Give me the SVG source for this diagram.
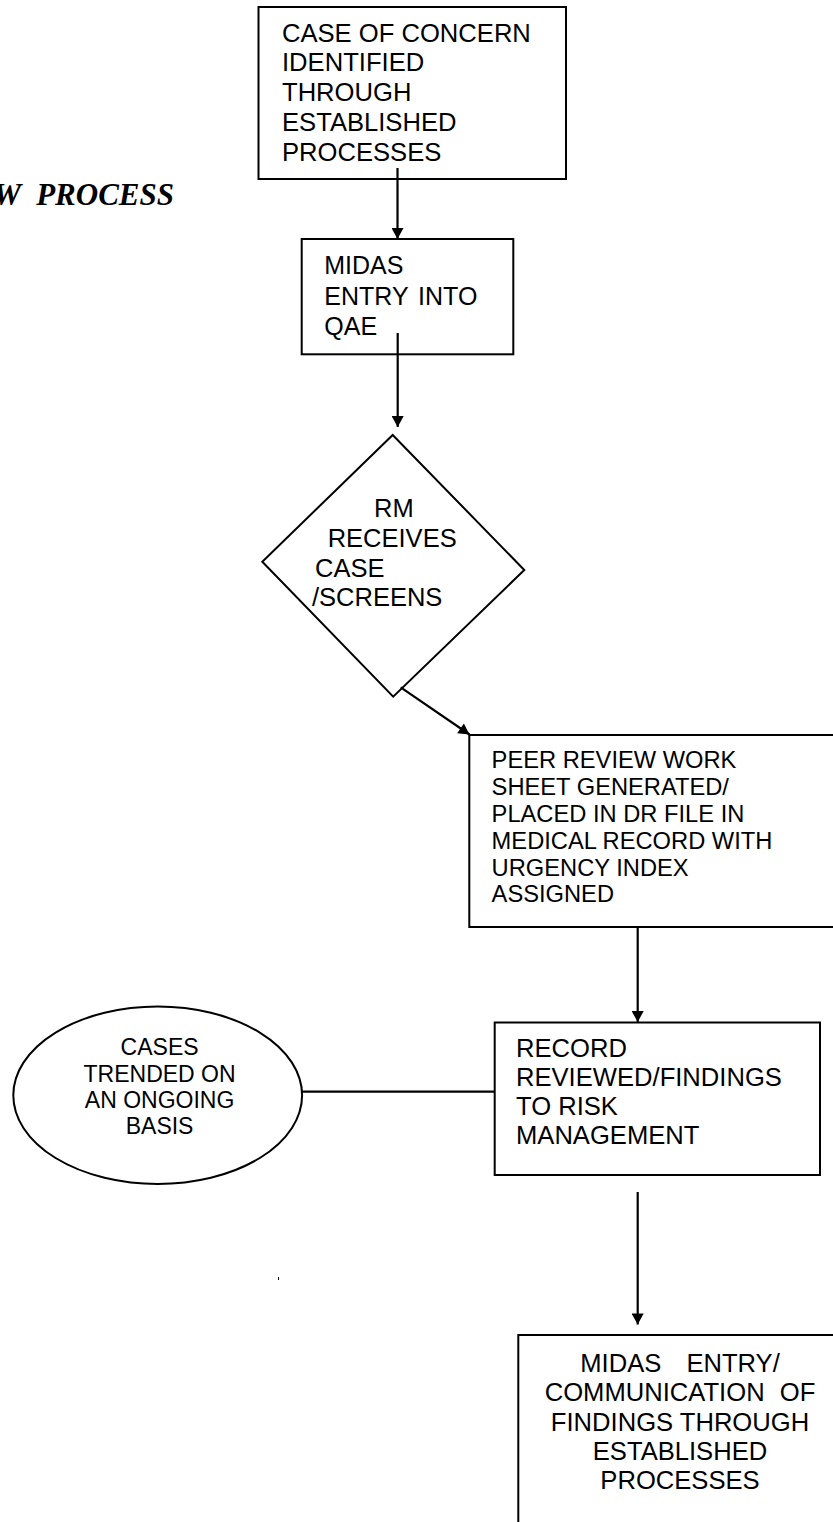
<svg xmlns="http://www.w3.org/2000/svg" width="833" height="1522" viewBox="0 0 833 1522">
<style>
.node{fill:#fff;stroke:#000;stroke-width:2}
.t{font-family:"Liberation Sans",Arial,sans-serif;fill:#000}
.c{fill:none;stroke:#000;stroke-width:2.2}
.title{font-family:"Liberation Serif","Times New Roman",serif;font-weight:bold;font-style:italic;font-size:31px;fill:#000}
</style>
<defs>
<marker id="ah" markerUnits="userSpaceOnUse" markerWidth="12" markerHeight="12" refX="10" refY="5.5" orient="auto" viewBox="0 0 10 11">
<path d="M0,0 L10,5.5 L0,11 z" fill="#000"/>
</marker>
</defs>
<rect width="833" height="1522" fill="#fff"/>
<text class="title" x="174" y="205" text-anchor="end" word-spacing="8">W PROCESS</text>

<g id="n1">
<rect class="node" x="258.5" y="7" width="307.5" height="172"/>
<text class="t" font-size="25.6"><tspan x="282" y="41.7">CASE OF CONCERN</tspan><tspan x="282" y="71.3">IDENTIFIED</tspan><tspan x="282" y="101">THROUGH</tspan><tspan x="282" y="130.8">ESTABLISHED</tspan><tspan x="282" y="160.5">PROCESSES</tspan></text>
</g>
<g id="n2">
<rect class="node" x="301.7" y="239" width="211.6" height="115.3"/>
<text class="t" font-size="25"><tspan x="324.3" y="274.3">MIDAS</tspan><tspan x="324.3" y="305" word-spacing="3">ENTRY INTO</tspan><tspan x="324.3" y="335">QAE</tspan></text>
</g>
<g id="n3">
<polygon class="node" points="392.7,435 524.3,570 393.2,696.7 262.3,561.7"/>
<text class="t" font-size="25.5"><tspan x="374" y="517.3">RM</tspan><tspan x="327.7" y="546.7">RECEIVES</tspan><tspan x="315" y="576.7">CASE</tspan><tspan x="312" y="606">/SCREENS</tspan></text>
</g>
<g id="n4">
<rect class="node" x="469.3" y="735" width="380" height="192"/>
<text class="t" font-size="23.7"><tspan x="491.6" y="768.3">PEER REVIEW WORK</tspan><tspan x="491.6" y="795">SHEET GENERATED/</tspan><tspan x="491.6" y="822.3">PLACED IN DR FILE IN</tspan><tspan x="491.6" y="849">MEDICAL RECORD WITH</tspan><tspan x="491.6" y="875.7">URGENCY INDEX</tspan><tspan x="491.6" y="902.3">ASSIGNED</tspan></text>
</g>
<g id="n5">
<rect class="node" x="494.7" y="1022.5" width="325.3" height="152.5"/>
<text class="t" font-size="25.6"><tspan x="516" y="1057.3">RECORD</tspan><tspan x="516" y="1086">REVIEWED/FINDINGS</tspan><tspan x="516" y="1115">TO RISK</tspan><tspan x="516" y="1144.3">MANAGEMENT</tspan></text>
</g>
<g id="n6">
<ellipse class="node" cx="157.7" cy="1095.3" rx="144.4" ry="88.7"/>
<text class="t" font-size="23" text-anchor="middle"><tspan x="159.6" y="1055">CASES</tspan><tspan x="159.6" y="1082.3">TRENDED ON</tspan><tspan x="159.6" y="1108.3">AN ONGOING</tspan><tspan x="159.6" y="1134">BASIS</tspan></text>
</g>
<g id="n7">
<rect class="node" x="518.3" y="1335" width="330" height="200"/>
<text class="t" font-size="25.6" text-anchor="middle"><tspan x="680" y="1371.7" word-spacing="18">MIDAS ENTRY/</tspan><tspan x="680" y="1401" word-spacing="8">COMMUNICATION OF</tspan><tspan x="680" y="1431">FINDINGS THROUGH</tspan><tspan x="680" y="1460">ESTABLISHED</tspan><tspan x="680" y="1489">PROCESSES</tspan></text>
</g>

<g id="connectors">
<line class="c" x1="397.5" y1="168" x2="397.5" y2="239" marker-end="url(#ah)"/>
<line class="c" x1="397.7" y1="333" x2="397.7" y2="427" marker-end="url(#ah)"/>
<line class="c" x1="400.7" y1="687.3" x2="469.5" y2="734.5" marker-end="url(#ah)"/>
<line class="c" x1="637.7" y1="927" x2="637.7" y2="1022" marker-end="url(#ah)"/>
<line class="c" x1="302" y1="1091.7" x2="494.7" y2="1091.7"/>
<line class="c" x1="637.7" y1="1192" x2="637.7" y2="1324.5" marker-end="url(#ah)"/>
</g>
<rect x="278" y="1277" width="1" height="3" fill="#000"/>
</svg>
